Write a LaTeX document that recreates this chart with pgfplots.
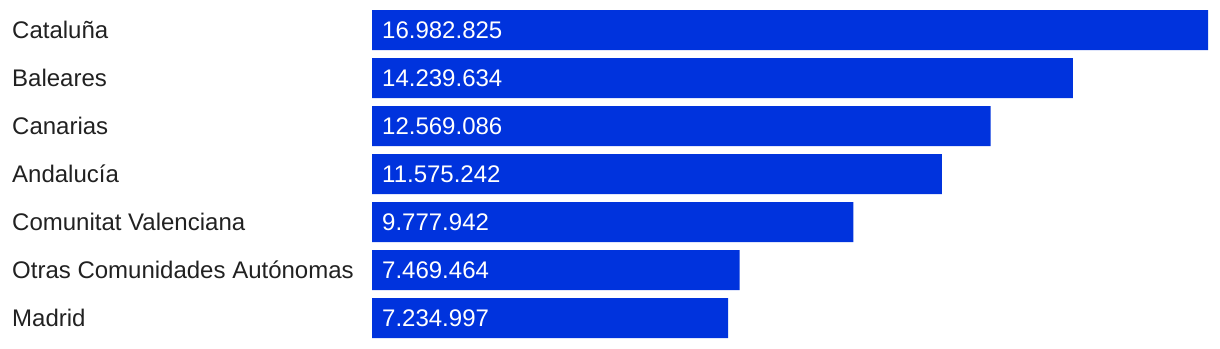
\documentclass[border=0pt]{standalone}
\usepackage{pgfplots}
\pgfplotsset{compat=1.18}
\usepackage{pgfplotstable}
\usepackage{fontspec}
\setmainfont{Liberation Sans}
\definecolor{barblue}{RGB}{0,51,221}
\definecolor{labgray}{RGB}{33,33,33}
\pgfplotstableread[col sep=comma]{
y,value,label
0,16982825,16.982.825
1,14239634,14.239.634
2,12569086,12.569.086
3,11575242,11.575.242
4,9777942,9.777.942
5,7469464,7.469.464
6,7234997,7.234.997
}\datatable
\begin{document}
\begin{tikzpicture}
\useasboundingbox (0,0) rectangle (1220pt,348pt);
\begin{axis}[
  at={(372pt,6pt)}, anchor=south west,
  scale only axis, width=836pt, height=336pt,
  xmin=0, xmax=16982825,
  ymin=-0.5, ymax=6.5, y dir=reverse,
  axis line style={draw=none},
  major tick length=0pt,
  xtick=\empty,
  ytick={0,1,2,3,4,5,6},
  yticklabels={Cataluña,Baleares,Canarias,Andalucía,Comunitat Valenciana,Otras Comunidades Autónomas,Madrid},
  yticklabel style={anchor=west, inner sep=0pt, xshift=-360pt, font=\fontsize{24}{28}\selectfont, text=labgray},
  clip=false,
]
\addplot[xbar, bar width=40pt, fill=barblue, draw=none, bar shift=0pt] table[x=value, y=y] {\datatable};
\addplot[draw=none, mark=none, nodes near coords, point meta=explicit symbolic,
  nodes near coords style={anchor=west, inner sep=0pt, xshift=10pt, text=white, font=\fontsize{24}{28}\selectfont}]
  table[x expr=0, y=y, meta=label] {\datatable};
\end{axis}
\end{tikzpicture}
\end{document}
